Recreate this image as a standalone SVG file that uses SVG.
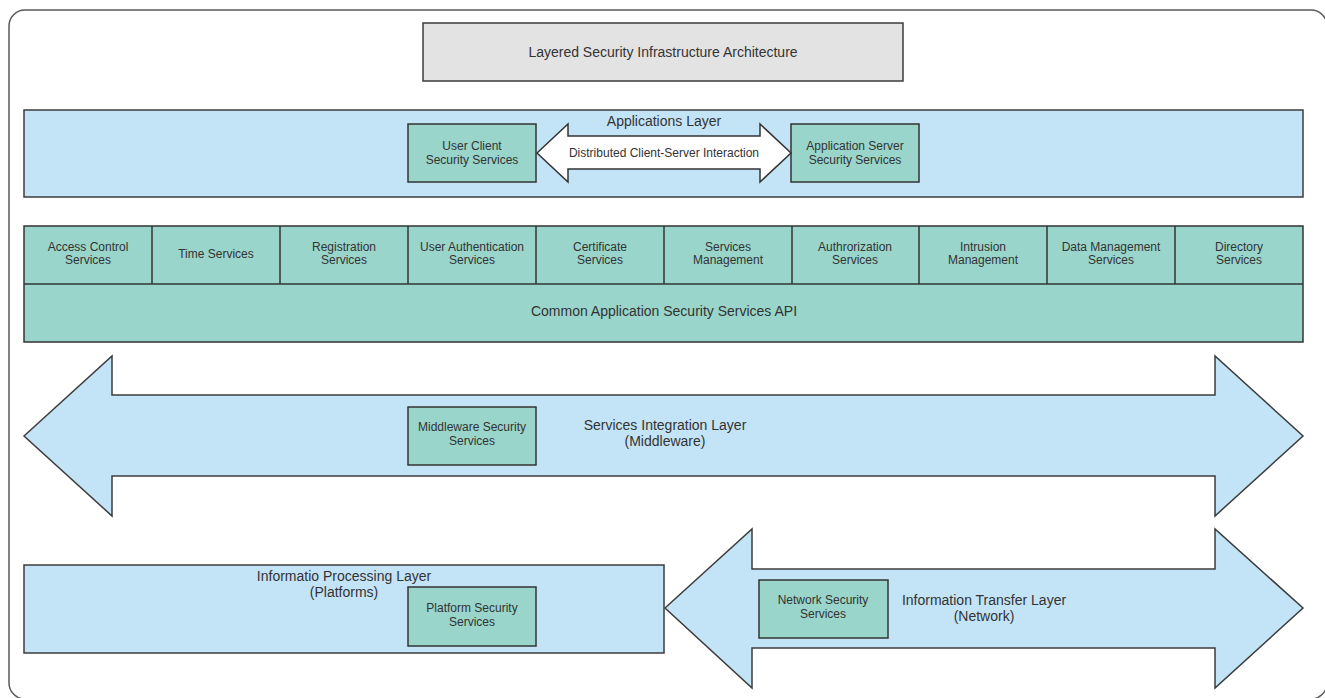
<svg xmlns="http://www.w3.org/2000/svg" width="1325" height="698" viewBox="0 0 1325 698">
  <style>
    .frame { fill: #ffffff; stroke: #5a5a5a; stroke-width: 1.5; }
    .title { fill: #e3e3e3; stroke: #3c3c3c; stroke-width: 1.5; }
    .layer { fill: #c3e4f6; stroke: #3c3c3c; stroke-width: 1.5; }
    .svc { fill: #99d5ca; stroke: #333333; stroke-width: 1.5; }
    .flow { fill: #ffffff; stroke: #333333; stroke-width: 1.5; stroke-linejoin: miter; }
    text { font-family: "Liberation Sans", Arial, sans-serif; fill: #333333; text-anchor: middle; }
    .big { font-size: 14px; }
    .sm { font-size: 12px; }
  </style>

  <!-- outer canvas border (runs off the right and bottom edges) -->
  <rect class="frame" x="9" y="10" width="1318" height="689" rx="16"/>

  <!-- title -->
  <g id="title">
    <rect class="title" x="423" y="23" width="480" height="58"/>
    <text class="big" x="663" y="57">Layered Security Infrastructure Architecture</text>
  </g>

  <!-- applications layer -->
  <g id="applications-layer">
    <rect class="layer" x="24" y="110" width="1279" height="87"/>
    <text class="big" x="664" y="126">Applications Layer</text>
  </g>
  <g id="user-client">
    <rect class="svc" x="408" y="124" width="128" height="58"/>
    <text class="sm" x="472" y="150">User Client</text>
    <text class="sm" x="472" y="164">Security Services</text>
  </g>
  <g id="app-server">
    <rect class="svc" x="791" y="124" width="128" height="58"/>
    <text class="sm" x="855" y="150">Application Server</text>
    <text class="sm" x="855" y="164">Security Services</text>
  </g>

  <!-- common services row -->
  <g id="common-services">
    <rect class="svc" x="24" y="226" width="1279" height="116"/>
    <line class="svc" x1="24" y1="284" x2="1303" y2="284"/>
    <line class="svc" x1="152" y1="226" x2="152" y2="284"/>
    <line class="svc" x1="280" y1="226" x2="280" y2="284"/>
    <line class="svc" x1="408" y1="226" x2="408" y2="284"/>
    <line class="svc" x1="536" y1="226" x2="536" y2="284"/>
    <line class="svc" x1="664" y1="226" x2="664" y2="284"/>
    <line class="svc" x1="792" y1="226" x2="792" y2="284"/>
    <line class="svc" x1="919" y1="226" x2="919" y2="284"/>
    <line class="svc" x1="1047" y1="226" x2="1047" y2="284"/>
    <line class="svc" x1="1175" y1="226" x2="1175" y2="284"/>
    <text class="sm" x="88" y="251">Access Control</text>
    <text class="sm" x="88" y="264">Services</text>
    <text class="sm" x="216" y="258">Time Services</text>
    <text class="sm" x="344" y="251">Registration</text>
    <text class="sm" x="344" y="264">Services</text>
    <text class="sm" x="472" y="251">User Authentication</text>
    <text class="sm" x="472" y="264">Services</text>
    <text class="sm" x="600" y="251">Certificate</text>
    <text class="sm" x="600" y="264">Services</text>
    <text class="sm" x="728" y="251">Services</text>
    <text class="sm" x="728" y="264">Management</text>
    <text class="sm" x="855" y="251">Authrorization</text>
    <text class="sm" x="855" y="264">Services</text>
    <text class="sm" x="983" y="251">Intrusion</text>
    <text class="sm" x="983" y="264">Management</text>
    <text class="sm" x="1111" y="251">Data Management</text>
    <text class="sm" x="1111" y="264">Services</text>
    <text class="sm" x="1239" y="251">Directory</text>
    <text class="sm" x="1239" y="264">Services</text>
    <text class="big" x="664" y="316">Common Application Security Services API</text>
  </g>

  <!-- services integration layer (double block arrow) -->
  <g id="integration-layer">
    <path class="layer" d="M24,436 L112,356 L112,395 L1215,395 L1215,356 L1303,436 L1215,516 L1215,476 L112,476 L112,516 Z"/>
    <text class="big" x="665" y="430">Services Integration Layer</text>
    <text class="big" x="665" y="446">(Middleware)</text>
  </g>
  <g id="middleware">
    <rect class="svc" x="408" y="407" width="128" height="58"/>
    <text class="sm" x="472" y="431">Middleware Security</text>
    <text class="sm" x="472" y="445">Services</text>
  </g>

  <!-- information processing layer -->
  <g id="processing-layer">
    <rect class="layer" x="24" y="565" width="640" height="88"/>
    <text class="big" x="344" y="581">Informatio Processing Layer</text>
    <text class="big" x="344" y="597">(Platforms)</text>
  </g>
  <g id="platform">
    <rect class="svc" x="408" y="587" width="128" height="59"/>
    <text class="sm" x="472" y="612">Platform Security</text>
    <text class="sm" x="472" y="626">Services</text>
  </g>

  <!-- information transfer layer (double block arrow) -->
  <g id="transfer-layer">
    <path class="layer" d="M665,608 L752,529 L752,569 L1215,569 L1215,529 L1303,608 L1215,688 L1215,648 L752,648 L752,688 Z"/>
    <text class="big" x="984" y="605">Information Transfer Layer</text>
    <text class="big" x="984" y="621">(Network)</text>
  </g>
  <g id="network">
    <rect class="svc" x="759" y="580" width="129" height="58"/>
    <text class="sm" x="823" y="604">Network Security</text>
    <text class="sm" x="823" y="618">Services</text>
  </g>

  <!-- connectors -->
  <g id="connectors">
    <path class="flow" d="M537,153 L568,124 L568,136 L760,136 L760,124 L791,153 L760,182 L760,169 L568,169 L568,182 Z"/>
    <text class="sm" x="664" y="157">Distributed Client-Server Interaction</text>
  </g>
</svg>
